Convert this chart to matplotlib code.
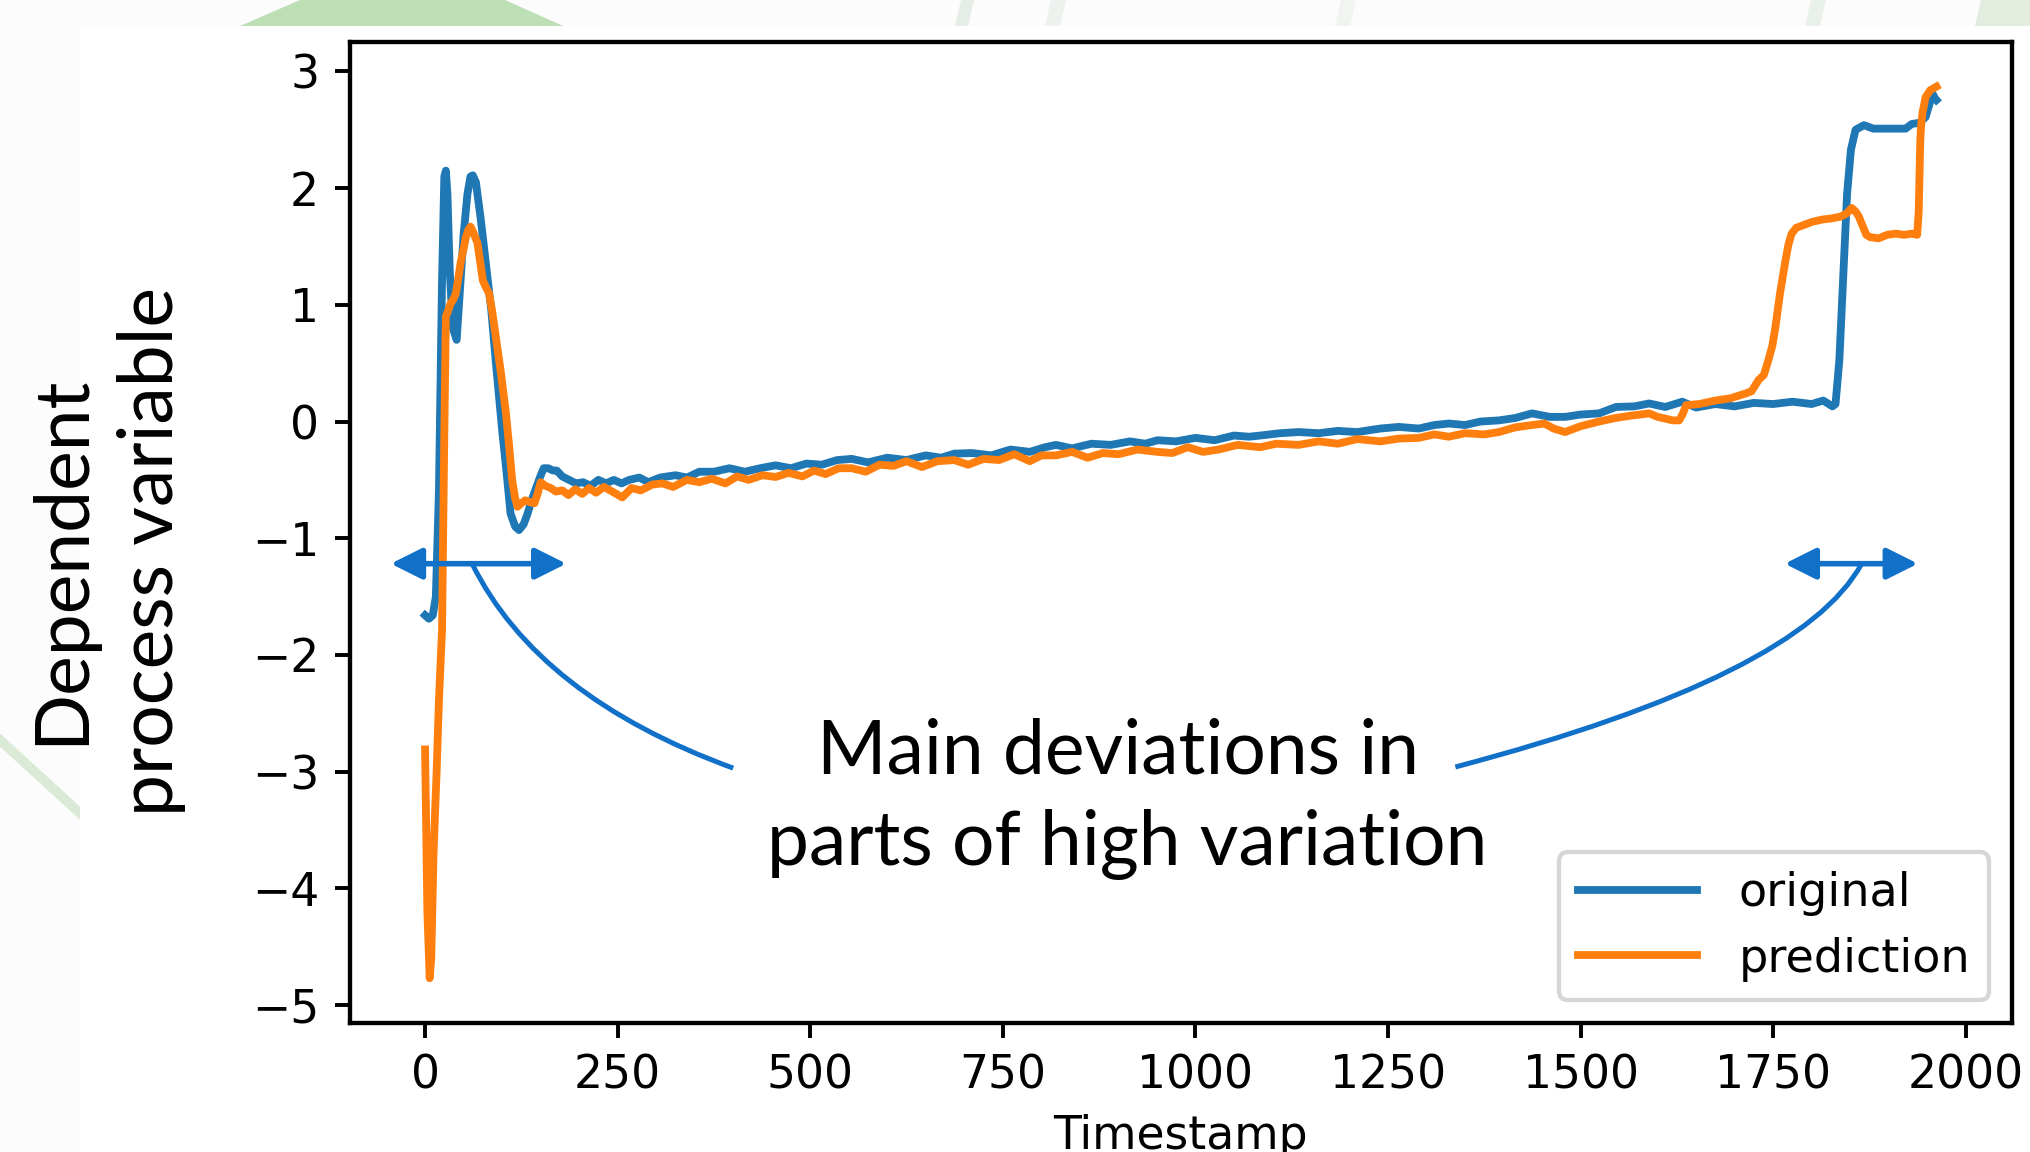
import matplotlib
matplotlib.use("Agg")
import matplotlib.pyplot as plt
from matplotlib.patches import Polygon, Rectangle, PathPatch
from matplotlib.path import Path
from matplotlib.lines import Line2D

# ---- data ----
blue_t = [0, 5, 10, 14, 18, 22, 25, 27, 29, 32, 36, 41, 45, 50, 55, 59, 62, 66, 72, 79,
          86, 92, 100, 106, 111, 117, 122, 128, 133, 138, 143, 149, 154, 160, 166, 171, 178,
          187, 196, 205, 215, 225, 235, 245, 255, 265, 278, 290, 305, 325, 340, 356, 375,
          395, 415, 435, 455, 475, 495, 515, 535, 554, 575, 600, 625, 650, 670, 687, 710,
          735, 760, 785, 805, 819, 840, 865, 890, 915, 935, 951, 975, 1000, 1025, 1050, 1070,
          1084, 1110, 1134, 1160, 1185, 1210, 1240, 1264, 1290, 1310, 1329, 1350, 1370, 1394,
          1415, 1437, 1460, 1480, 1500, 1524, 1546, 1570, 1589, 1610, 1632, 1650, 1675, 1700,
          1725, 1750, 1775, 1800, 1815, 1827, 1831, 1836, 1839, 1842, 1846, 1851, 1857, 1868,
          1880, 1900, 1922, 1930, 1940, 1948, 1953, 1957, 1960, 1962]
blue_v = [-1.66, -1.69, -1.66, -1.50, -0.60, 1.20, 2.10, 2.15, 1.95, 1.30, 0.80, 0.70, 1.10,
          1.60, 1.95, 2.10, 2.11, 2.05, 1.75, 1.35, 0.95, 0.50, -0.07, -0.45, -0.79, -0.90,
          -0.93, -0.88, -0.79, -0.68, -0.59, -0.48, -0.40, -0.40, -0.42, -0.42, -0.47, -0.50,
          -0.53, -0.52, -0.55, -0.50, -0.53, -0.50, -0.53, -0.50, -0.48, -0.52, -0.48, -0.46,
          -0.48, -0.43, -0.43, -0.40, -0.43, -0.40, -0.375, -0.40, -0.36, -0.37, -0.33, -0.32,
          -0.35, -0.31, -0.33, -0.29, -0.31, -0.275, -0.27, -0.29, -0.24, -0.26, -0.22, -0.20,
          -0.23, -0.19, -0.20, -0.17, -0.19, -0.16, -0.17, -0.14, -0.16, -0.12, -0.13, -0.12,
          -0.10, -0.09, -0.10, -0.08, -0.09, -0.06, -0.046, -0.06, -0.03, -0.017, -0.03, 0.0,
          0.01, 0.03, 0.07, 0.04, 0.04, 0.06, 0.07, 0.125, 0.13, 0.155, 0.125, 0.17, 0.12,
          0.15, 0.13, 0.16, 0.15, 0.17, 0.15, 0.18, 0.13, 0.15, 0.53, 0.95, 1.38, 1.95, 2.33,
          2.50, 2.54, 2.51, 2.51, 2.51, 2.55, 2.56, 2.61, 2.72, 2.81, 2.77, 2.755]

orange_t = [0, 3, 6, 8, 11, 15, 18, 22, 25, 27, 30, 33, 37, 40, 43, 46, 50, 53, 56, 59, 62,
            65, 68, 72, 75, 79, 83, 87, 90, 94, 98, 101, 105, 109, 113, 117, 120, 125, 130,
            136, 142, 146, 150, 156, 163, 170, 178, 186, 195, 204, 213, 222, 232, 243, 256,
            268, 280, 295, 308, 322, 340, 356, 372, 390, 405, 420, 438, 455, 472, 490, 505,
            520, 537, 554, 572, 590, 608, 625, 645, 665, 687, 705, 725, 745, 765, 785, 800,
            819, 840, 860, 880, 900, 925, 951, 970, 990, 1010, 1030, 1055, 1084, 1105, 1134,
            1160, 1185, 1210, 1240, 1264, 1290, 1310, 1329, 1350, 1375, 1394, 1415, 1437,
            1453, 1465, 1480, 1500, 1524, 1545, 1565, 1589, 1600, 1610, 1620, 1628, 1633,
            1637, 1654, 1675, 1695, 1714, 1722, 1731, 1738, 1744, 1749, 1753, 1759, 1766,
            1770, 1774, 1780, 1788, 1800, 1813, 1825, 1837, 1845, 1852, 1857, 1861, 1866,
            1871, 1876, 1887, 1898, 1909, 1920, 1930, 1937, 1939, 1940, 1941, 1942, 1944,
            1948, 1954, 1962]
orange_v = [-2.81, -4.20, -4.77, -4.60, -3.70, -3.00, -2.39, -1.79, -0.10, 0.90, 0.95, 1.01,
            1.05, 1.10, 1.22, 1.355, 1.48, 1.58, 1.64, 1.67, 1.63, 1.58, 1.53, 1.35, 1.21,
            1.15, 1.10, 0.95, 0.81, 0.62, 0.44, 0.28, 0.07, -0.20, -0.50, -0.66, -0.73, -0.70,
            -0.675, -0.69, -0.70, -0.62, -0.52, -0.55, -0.57, -0.60, -0.59, -0.63, -0.58,
            -0.62, -0.57, -0.61, -0.56, -0.60, -0.65, -0.57, -0.59, -0.54, -0.53, -0.56, -0.50,
            -0.52, -0.49, -0.53, -0.47, -0.50, -0.46, -0.475, -0.44, -0.47, -0.42, -0.45,
            -0.40, -0.40, -0.43, -0.37, -0.38, -0.34, -0.39, -0.34, -0.33, -0.37, -0.32, -0.33,
            -0.28, -0.34, -0.29, -0.29, -0.26, -0.31, -0.27, -0.28, -0.24, -0.26, -0.27, -0.22,
            -0.26, -0.24, -0.20, -0.22, -0.19, -0.20, -0.17, -0.19, -0.15, -0.17, -0.146,
            -0.14, -0.11, -0.13, -0.10, -0.11, -0.09, -0.05, -0.03, -0.017, -0.06, -0.09,
            -0.04, 0.00, 0.03, 0.05, 0.07, 0.04, 0.025, 0.01, 0.01, 0.07, 0.14, 0.15, 0.18,
            0.20, 0.24, 0.26, 0.355, 0.40, 0.53, 0.65, 0.81, 1.10, 1.38, 1.52, 1.61, 1.66,
            1.68, 1.71, 1.73, 1.74, 1.755, 1.78, 1.83, 1.80, 1.76, 1.68, 1.60, 1.58, 1.57,
            1.60, 1.61, 1.60, 1.61, 1.60, 1.80, 2.10, 2.40, 2.53, 2.65, 2.78, 2.84, 2.87]

series_labels = ["original", "prediction"]
x_ticks = [0, 250, 500, 750, 1000, 1250, 1500, 1750, 2000]
y_ticks = [-5, -4, -3, -2, -1, 0, 1, 2, 3]
ylabel_lines = ["Dependent", "process variable"]
note_lines = ["Main deviations in", "parts of high variation"]

# highlighted spans (double arrows) and the curved connectors to the note
spans = [(-44.5, 183.4), (1765.0, 1938.0)]
span_y = -1.218
connectors = [
    [(61.0, -1.218), (146.7, -2.36), (400.0, -2.97)],
    [(1865.0, -1.218), (1786.0, -2.18), (1337.5, -2.96)],
]

W, H, DPI = 2030, 1152, 100
k = 3.13  # the chart was rendered at roughly 3x matplotlib defaults
plt.rcParams.update({
    "font.size": 10.5 * k,
    "lines.linewidth": 1.8 * k,
    "axes.linewidth": 1.0 * k,
    "xtick.major.size": 3.5 * k, "ytick.major.size": 3.5 * k,
    "xtick.major.width": 0.9 * k, "ytick.major.width": 0.9 * k,
    "xtick.major.pad": 3.5 * k, "ytick.major.pad": 3.5 * k,
    "axes.labelpad": 3.5 * k,
    "patch.linewidth": 1.0 * k,
})

fig = plt.figure(figsize=(W / DPI, H / DPI), dpi=DPI, facecolor="#fbfcfb")


def px(x, y):
    return (x / W, 1 - y / H)


# slide background showing around the pasted chart
slide = "Lato"
fig.add_artist(Polygon([px(240, 26), px(300, 0), px(505, 0), px(563, 26)], closed=True,
                       transform=fig.transFigure, facecolor="#bddfb6", edgecolor="none", zorder=-3))
for x0, x1, c in [(955, 968, "#e6ede6"), (1045, 1060, "#eef2ee"), (1335, 1350, "#f1f4f1"),
                  (1805, 1820, "#eaf0ea"), (1975, 2030, "#e2ede0")]:
    fig.add_artist(Polygon([px(x0, 26), px(x0 + 6, 0), px(x1 + 6, 0), px(x1, 26)], closed=True,
                           transform=fig.transFigure, facecolor=c, edgecolor="none", zorder=-3))
fig.add_artist(Line2D([0, 82 / W], [1 - 740 / H, 1 - 815 / H], transform=fig.transFigure,
                      color="#dbead7", lw=7, zorder=-3))
fig.add_artist(Rectangle(px(80, 1152), (W - 80) / W, (1152 - 26) / H, transform=fig.transFigure,
                         facecolor="white", edgecolor="none", zorder=-2))

ax = fig.add_axes([349.5 / W, 1 - 1023 / H, (2012 - 349.5) / W, (1023 - 41.7) / H])
ax.plot(blue_t, blue_v, color="#1f77b4", label=series_labels[0])
ax.plot(orange_t, orange_v, color="#ff7f0e", label=series_labels[1])
ax.set_xlim(-98.1, 2060.1)
ax.set_ylim(-5.154, 3.255)
ax.set_xticks(x_ticks)
ax.set_yticks(y_ticks)
ax.set_xlabel("Timestamp")
ax.legend(loc="lower right", fontsize=10.6 * k, handlelength=2.6, borderaxespad=0.5,
          labelspacing=0.45, handletextpad=0.9)

# slide annotations
blue_ann = "#1170c8"
for a, b in spans:
    ax.annotate("", xy=(b, span_y), xytext=(a, span_y), annotation_clip=False,
                arrowprops=dict(arrowstyle="<|-|>,head_length=19,head_width=9.5",
                                mutation_scale=1, color=blue_ann, lw=4,
                                shrinkA=0, shrinkB=0))
for pts in connectors:
    ax.add_patch(PathPatch(Path(pts, [Path.MOVETO, Path.CURVE3, Path.CURVE3]),
                           facecolor="none", edgecolor=blue_ann, lw=3.6, clip_on=False))

fig.text(1118 / W, 1 - 773 / H, note_lines[0], family=slide, fontsize=54,
         ha="center", va="baseline")
fig.text(1127.6 / W, 1 - 865 / H, note_lines[1], family=slide, fontsize=54,
         ha="center", va="baseline")
fig.text(83 / W, 1 - 560 / H, ylabel_lines[0], family=slide, fontsize=54,
         rotation=90, ha="center", va="baseline", rotation_mode="anchor")
fig.text(173 / W, 1 - 551 / H, ylabel_lines[1], family=slide, fontsize=54,
         rotation=90, ha="center", va="baseline", rotation_mode="anchor")

fig.savefig("out.png", dpi=DPI, facecolor=fig.get_facecolor())
